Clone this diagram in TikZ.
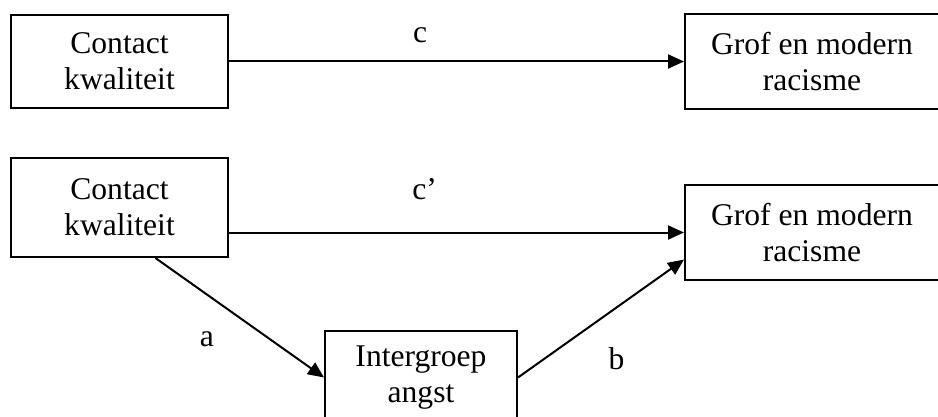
\documentclass[tikz,border=0pt]{standalone}
\usepackage{fontspec}
\setmainfont{Liberation Serif}
\usepackage{tikz}
\usetikzlibrary{arrows.meta,positioning,calc}
\tikzset{
  model/.style={>={Triangle[length=12pt,width=10.5pt]},line width=1.5pt,
    font=\fontsize{23.7pt}{27pt}\selectfont},
  var/.style={draw,rectangle,align=center,inner sep=0pt,
              minimum width=162.75pt,minimum height=69.75pt},
  outc/.style={var,minimum width=190.5pt,minimum height=71.25pt},
  arr/.style={->},
  lbl/.style={inner sep=0pt}}
\begin{document}
\begin{tikzpicture}[model]
  \useasboundingbox (-89.625pt,46.125pt) rectangle (613.875pt,-266.625pt);
  \node[var] (K1) at (0,0) {Contact\\kwaliteit};
  \node[outc] (G1) [right=341.25pt of K1] {Grof en modern\\racisme};
  \node[var,minimum height=74.25pt] (K2) [below=36pt of K1] {Contact\\kwaliteit};
  \node[outc] (G2) [below=55.5pt of G1] {Grof en modern\\racisme};
  \node[var,minimum width=144pt] (I) [below right=54pt and 71.25pt of K2] {Intergroep\\angst};
  \draw[arr] (K1) -- node[lbl,pos=.42,yshift=19.5pt] (c) {c} (G1);
  \draw[arr] (K2.east |- G2.west) -- node[lbl,pos=.43,yshift=32.6pt] (c2) {c'} (G2.west);
  \draw[arr] ($(K2.south west)!.664!(K2.south east)$) --
    node[lbl,pos=.43,xshift=-15.7pt,yshift=-22.2pt] (a) {a} (I.west);
  \draw[arr] (I.east) --
    node[lbl,pos=.45,xshift=17.8pt,yshift=-25.7pt] (b) {b} ($(G2.south west)!.221!(G2.north west)$);
\end{tikzpicture}
\end{document}
